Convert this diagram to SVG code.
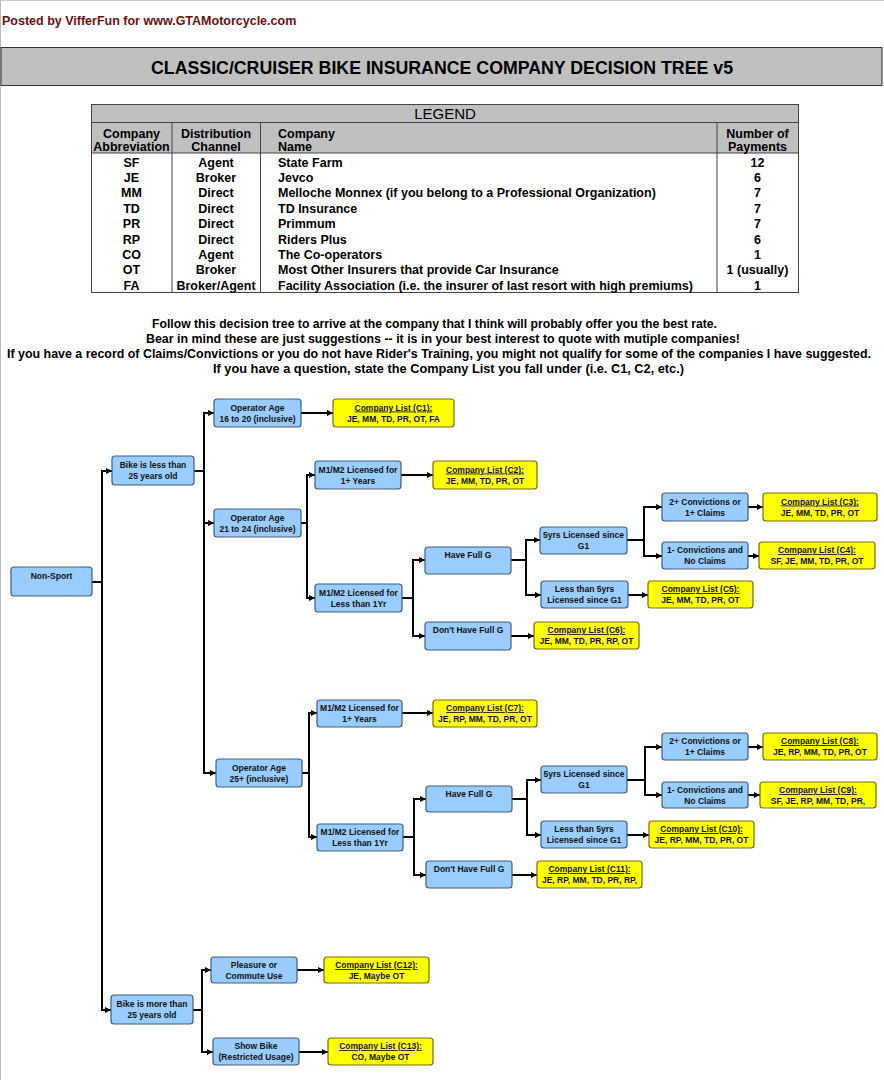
<svg xmlns="http://www.w3.org/2000/svg" width="884" height="1080" viewBox="0 0 884 1080">
<defs>
<style>
text{font-family:"Liberation Sans",Arial,sans-serif;font-weight:bold}
.b rect{fill:#99ccff;stroke:#3f5f7f;stroke-width:1.2}
.y rect{fill:#ffff00;stroke:#7a6a10;stroke-width:1.2}
.b text,.y text{font-size:8.5px;text-anchor:middle;fill:#111}
.u{text-decoration:underline}
.cn path{fill:none;stroke:#000;stroke-width:2;marker-end:url(#ah)}
.lg{font-size:12.5px;fill:#000}
.c{text-anchor:middle}
.tl{stroke:#444;stroke-width:1;fill:none}
.p{font-size:12px;fill:#000}
</style>
<marker id="ah" markerUnits="userSpaceOnUse" markerWidth="7" markerHeight="7" refX="6" refY="3" orient="auto">
<path d="M0,0 L6,3 L0,6 z" fill="#000"/>
</marker>
</defs>
<rect x="0" y="0" width="884" height="1080" fill="#fff"/>
<line x1="0.5" y1="0" x2="0.5" y2="1080" stroke="#b8b8b8"/>
<line x1="0" y1="0.5" x2="884" y2="0.5" stroke="#c8c8c8"/>

<g id="header">
<text x="2" y="24.5" style="font-size:12.5px;fill:#6b1010">Posted by VifferFun for www.GTAMotorcycle.com</text>
<rect x="1" y="47.5" width="881" height="38" fill="#c0c0c0" stroke="#333"/>
<text x="151" y="74" textLength="582" lengthAdjust="spacingAndGlyphs" style="font-size:19px;fill:#000">CLASSIC/CRUISER BIKE INSURANCE COMPANY DECISION TREE v5</text>
</g>

<g id="legend">
<rect x="91.5" y="104.5" width="707" height="188" fill="#fff"/>
<rect x="91.5" y="104.5" width="707" height="48.5" fill="#c0c0c0"/>
<rect x="91.5" y="104.5" width="707" height="188" class="tl"/>
<line x1="91.5" y1="122.5" x2="798.5" y2="122.5" class="tl"/>
<line x1="91.5" y1="153" x2="798.5" y2="153" class="tl"/>
<line x1="172" y1="122.5" x2="172" y2="292.5" class="tl"/>
<line x1="260.5" y1="122.5" x2="260.5" y2="292.5" class="tl"/>
<line x1="717" y1="122.5" x2="717" y2="292.5" class="tl"/>
<text x="445" y="119" class="c" style="font-size:15px;font-weight:normal;fill:#000">LEGEND</text>
<g class="lg">
<text x="131.5" y="137.5" class="c">Company</text><text x="131.5" y="150.5" class="c">Abbreviation</text>
<text x="216" y="137.5" class="c">Distribution</text><text x="216" y="150.5" class="c">Channel</text>
<text x="278" y="137.5">Company</text><text x="278" y="150.5">Name</text>
<text x="757.5" y="137.5" class="c">Number of</text><text x="757.5" y="150.5" class="c">Payments</text>

<text x="131.5" y="166.5" class="c">SF</text><text x="216" y="166.5" class="c">Agent</text><text x="278" y="166.5">State Farm</text><text x="757.5" y="166.5" class="c">12</text>
<text x="131.5" y="181.9" class="c">JE</text><text x="216" y="181.9" class="c">Broker</text><text x="278" y="181.9">Jevco</text><text x="757.5" y="181.9" class="c">6</text>
<text x="131.5" y="197.3" class="c">MM</text><text x="216" y="197.3" class="c">Direct</text><text x="278" y="197.3">Melloche Monnex (if you belong to a Professional Organization)</text><text x="757.5" y="197.3" class="c">7</text>
<text x="131.5" y="212.7" class="c">TD</text><text x="216" y="212.7" class="c">Direct</text><text x="278" y="212.7">TD Insurance</text><text x="757.5" y="212.7" class="c">7</text>
<text x="131.5" y="228.1" class="c">PR</text><text x="216" y="228.1" class="c">Direct</text><text x="278" y="228.1">Primmum</text><text x="757.5" y="228.1" class="c">7</text>
<text x="131.5" y="243.5" class="c">RP</text><text x="216" y="243.5" class="c">Direct</text><text x="278" y="243.5">Riders Plus</text><text x="757.5" y="243.5" class="c">6</text>
<text x="131.5" y="258.9" class="c">CO</text><text x="216" y="258.9" class="c">Agent</text><text x="278" y="258.9">The Co-operators</text><text x="757.5" y="258.9" class="c">1</text>
<text x="131.5" y="274.3" class="c">OT</text><text x="216" y="274.3" class="c">Broker</text><text x="278" y="274.3">Most Other Insurers that provide Car Insurance</text><text x="757.5" y="274.3" class="c">1 (usually)</text>
<text x="131.5" y="289.7" class="c">FA</text><text x="216" y="289.7" class="c">Broker/Agent</text><text x="278" y="289.7">Facility Association (i.e. the insurer of last resort with high premiums)</text><text x="757.5" y="289.7" class="c">1</text>
</g>
</g>

<g id="intro" class="p">
<text x="152" y="327.5" textLength="565" lengthAdjust="spacingAndGlyphs">Follow this decision tree to arrive at the company that I think will probably offer you the best rate.</text>
<text x="146" y="342.5" textLength="594" lengthAdjust="spacingAndGlyphs">Bear in mind these are just suggestions -- it is in your best interest to quote with mutiple companies!</text>
<text x="7" y="357.5" textLength="864" lengthAdjust="spacingAndGlyphs">If you have a record of Claims/Convictions or you do not have Rider's Training, you might not qualify for some of the companies I have suggested.</text>
<text x="213" y="372.5" textLength="471" lengthAdjust="spacingAndGlyphs">If you have a question, state the Company List you fall under (i.e. C1, C2, etc.)</text>
</g>

<g id="connectors" class="cn">
<path d="M92 582 H102 V471 H112"/>
<path d="M92 582 H102 V1010 H111"/>
<path d="M194 471 H204 V413 H214"/>
<path d="M194 471 H204 V523 H214"/>
<path d="M194 471 H204 V773 H216"/>
<path d="M301 413 H333"/>
<path d="M301 523 H307 V475 H315"/>
<path d="M301 523 H307 V598 H315"/>
<path d="M401 475 H433"/>
<path d="M402 598 H413 V560 H425"/>
<path d="M402 598 H413 V636 H425"/>
<path d="M511 560 H526 V540 H540"/>
<path d="M511 560 H526 V595 H541"/>
<path d="M627 540 H644 V507 H662"/>
<path d="M627 540 H644 V556 H662"/>
<path d="M748 507 H763"/>
<path d="M748 556 H759"/>
<path d="M628 595 H648"/>
<path d="M511 636 H534"/>
<path d="M302 773 H309 V713 H317"/>
<path d="M302 773 H309 V837 H317"/>
<path d="M402 713 H433"/>
<path d="M403 837 H414 V799 H426"/>
<path d="M403 837 H414 V875 H426"/>
<path d="M512 799 H527 V780 H541"/>
<path d="M512 799 H527 V835 H541"/>
<path d="M627 780 H645 V747 H662"/>
<path d="M627 780 H645 V795 H662"/>
<path d="M748 747 H763"/>
<path d="M748 795 H760"/>
<path d="M627 835 H649"/>
<path d="M512 875 H537"/>
<path d="M193 1010 H202 V970 H211"/>
<path d="M193 1010 H202 V1052 H213"/>
<path d="M297 970 H324"/>
<path d="M299 1052 H328"/>
</g>

<g id="n-nonsport" class="b"><rect x="11" y="567" width="81" height="29" rx="3"/><text x="51.5" y="578.5">Non-Sport</text></g>
<g id="n-bikeless" class="b"><rect x="112" y="456" width="82" height="29" rx="3"/><text x="153" y="467.5">Bike is less than</text><text x="153" y="478.5">25 years old</text></g>
<g id="n-age1620" class="b"><rect x="214" y="399" width="87" height="28" rx="3"/><text x="257.5" y="410.5">Operator Age</text><text x="257.5" y="421.5">16 to 20 (inclusive)</text></g>
<g id="c1" class="y"><rect x="333" y="399" width="121" height="28" rx="3"/><text x="393.5" y="410.5" class="u">Company List (C1):</text><text x="393.5" y="421.5">JE, MM, TD, PR, OT, FA</text></g>
<g id="n-age2124" class="b"><rect x="214" y="509" width="87" height="28" rx="3"/><text x="257.5" y="520.5">Operator Age</text><text x="257.5" y="531.5">21 to 24 (inclusive)</text></g>
<g id="n-lic1a" class="b"><rect x="315" y="461" width="86" height="28" rx="3"/><text x="358" y="472.5">M1/M2 Licensed for</text><text x="358" y="483.5">1+ Years</text></g>
<g id="c2" class="y"><rect x="433" y="461" width="104" height="28" rx="3"/><text x="485" y="472.5" class="u">Company List (C2):</text><text x="485" y="483.5">JE, MM, TD, PR, OT</text></g>
<g id="n-lic0a" class="b"><rect x="315" y="584" width="87" height="28" rx="3"/><text x="358.5" y="595.5">M1/M2 Licensed for</text><text x="358.5" y="606.5">Less than 1Yr</text></g>
<g id="n-fullga" class="b"><rect x="425" y="547" width="86" height="27" rx="3"/><text x="468" y="558">Have Full G</text></g>
<g id="n-nofullga" class="b"><rect x="425" y="622" width="86" height="28" rx="3"/><text x="468" y="633">Don't Have Full G</text></g>
<g id="n-5yrsa" class="b"><rect x="540" y="527" width="87" height="27" rx="3"/><text x="583.5" y="538">5yrs Licensed since</text><text x="583.5" y="549">G1</text></g>
<g id="n-less5a" class="b"><rect x="541" y="581" width="87" height="27" rx="3"/><text x="584.5" y="592">Less than 5yrs</text><text x="584.5" y="603">Licensed since G1</text></g>
<g id="n-conv2a" class="b"><rect x="662" y="493" width="86" height="28" rx="3"/><text x="705" y="504.5">2+ Convictions or</text><text x="705" y="515.5">1+ Claims</text></g>
<g id="n-conv1a" class="b"><rect x="662" y="542" width="86" height="27" rx="3"/><text x="705" y="553">1- Convictions and</text><text x="705" y="564">No Claims</text></g>
<g id="c3" class="y"><rect x="763" y="493" width="114" height="28" rx="3"/><text x="820" y="504.5" class="u">Company List (C3):</text><text x="820" y="515.5">JE, MM, TD, PR, OT</text></g>
<g id="c4" class="y"><rect x="759" y="542" width="116" height="27" rx="3"/><text x="817" y="553" class="u">Company List (C4):</text><text x="817" y="564">SF, JE, MM, TD, PR, OT</text></g>
<g id="c5" class="y"><rect x="648" y="581" width="105" height="27" rx="3"/><text x="700.5" y="592" class="u">Company List (C5):</text><text x="700.5" y="603">JE, MM, TD, PR, OT</text></g>
<g id="c6" class="y"><rect x="534" y="622" width="105" height="27" rx="3"/><text x="586.5" y="633" class="u">Company List (C6):</text><text x="586.5" y="644">JE, MM, TD, PR, RP, OT</text></g>

<g id="n-age25" class="b"><rect x="216" y="759" width="86" height="28" rx="3"/><text x="259" y="770.5">Operator Age</text><text x="259" y="781.5">25+ (inclusive)</text></g>
<g id="n-lic1b" class="b"><rect x="317" y="700" width="85" height="27" rx="3"/><text x="359.5" y="711">M1/M2 Licensed for</text><text x="359.5" y="722">1+ Years</text></g>
<g id="c7" class="y"><rect x="433" y="700" width="104" height="27" rx="3"/><text x="485" y="711" class="u">Company List (C7):</text><text x="485" y="722">JE, RP, MM, TD, PR, OT</text></g>
<g id="n-lic0b" class="b"><rect x="317" y="824" width="86" height="27" rx="3"/><text x="360" y="835">M1/M2 Licensed for</text><text x="360" y="846">Less than 1Yr</text></g>
<g id="n-fullgb" class="b"><rect x="426" y="786" width="86" height="26" rx="3"/><text x="469" y="797">Have Full G</text></g>
<g id="n-nofullgb" class="b"><rect x="426" y="861" width="86" height="27" rx="3"/><text x="469" y="872">Don't Have Full G</text></g>
<g id="n-5yrsb" class="b"><rect x="541" y="766" width="86" height="27" rx="3"/><text x="584" y="777">5yrs Licensed since</text><text x="584" y="788">G1</text></g>
<g id="n-less5b" class="b"><rect x="541" y="821" width="86" height="27" rx="3"/><text x="584" y="832">Less than 5yrs</text><text x="584" y="843">Licensed since G1</text></g>
<g id="n-conv2b" class="b"><rect x="662" y="733" width="86" height="27" rx="3"/><text x="705" y="744">2+ Convictions or</text><text x="705" y="755">1+ Claims</text></g>
<g id="n-conv1b" class="b"><rect x="662" y="782" width="86" height="26" rx="3"/><text x="705" y="793">1- Convictions and</text><text x="705" y="804">No Claims</text></g>
<g id="c8" class="y"><rect x="763" y="733" width="114" height="27" rx="3"/><text x="820" y="744" class="u">Company List (C8):</text><text x="820" y="755">JE, RP, MM, TD, PR, OT</text></g>
<g id="c9" class="y"><rect x="760" y="782" width="116" height="26" rx="3"/><text x="818" y="793" class="u">Company List (C9):</text><text x="818" y="804">SF, JE, RP, MM, TD, PR,</text></g>
<g id="c10" class="y"><rect x="649" y="821" width="105" height="27" rx="3"/><text x="701.5" y="832" class="u">Company List (C10):</text><text x="701.5" y="843">JE, RP, MM, TD, PR, OT</text></g>
<g id="c11" class="y"><rect x="537" y="861" width="105" height="27" rx="3"/><text x="589.5" y="872" class="u">Company List (C11):</text><text x="589.5" y="883">JE, RP, MM, TD, PR, RP,</text></g>

<g id="n-bikemore" class="b"><rect x="111" y="995" width="82" height="29" rx="3"/><text x="152" y="1006.5">Bike is more than</text><text x="152" y="1017.5">25 years old</text></g>
<g id="n-pleasure" class="b"><rect x="211" y="957" width="86" height="26" rx="3"/><text x="254" y="968">Pleasure or</text><text x="254" y="979">Commute Use</text></g>
<g id="c12" class="y"><rect x="324" y="957" width="105" height="26" rx="3"/><text x="376.5" y="968" class="u">Company List (C12):</text><text x="376.5" y="979">JE, Maybe OT</text></g>
<g id="n-showbike" class="b"><rect x="213" y="1038" width="86" height="27" rx="3"/><text x="256" y="1049">Show Bike</text><text x="256" y="1060">(Restricted Usage)</text></g>
<g id="c13" class="y"><rect x="328" y="1038" width="105" height="27" rx="3"/><text x="380.5" y="1049" class="u">Company List (C13):</text><text x="380.5" y="1060">CO, Maybe OT</text></g>
</svg>
